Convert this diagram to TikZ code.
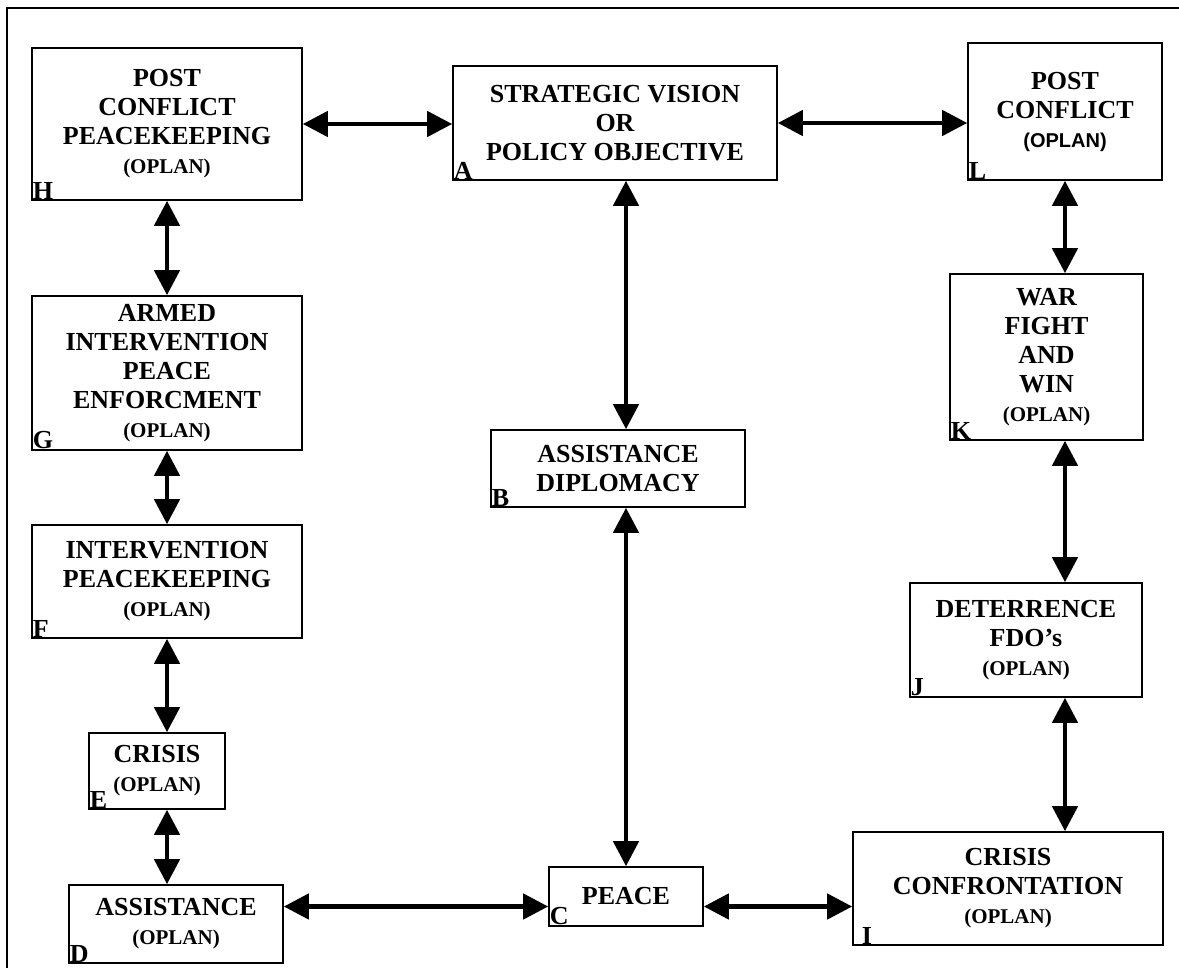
\documentclass[tikz,border=0pt]{standalone}
\usepackage{fontspec}
\setmainfont{Liberation Serif}
\newfontfamily\arialf{Liberation Sans}
\usetikzlibrary{arrows.meta,calc}
\newcommand{\opl}{{\fontsize{21}{24}\selectfont (OPLAN)}}
\newcommand{\oplsans}{{\arialf\fontsize{20}{24}\selectfont\bfseries (OPLAN)}}
\begin{document}
\begin{tikzpicture}[x=1pt,y=-1pt,
  box/.style={draw=black,line width=1.6pt,inner sep=0pt,align=center,
    font=\fontsize{26}{29}\selectfont\bfseries},
  lbl/.style={anchor=south west,inner sep=1.5pt,font=\fontsize{26}{26}\selectfont\bfseries},
  arr/.style={line width=4.5pt,{Triangle[length=25pt,width=25pt]}-{Triangle[length=25pt,width=25pt]}}]
\useasboundingbox (0,0) rectangle (1179,968);
% frame (only top and left sides visible)
\draw[line width=1.5pt] (7,968) -- (7,8) -- (1179,8);
% boxes
\node[box,minimum width=270pt,minimum height=152pt] (h) at (167,124) {POST\\CONFLICT\\PEACEKEEPING\\\opl};
\node[box,minimum width=324pt,minimum height=114pt] (a) at (615,123) {STRATEGIC VISION\\OR\\POLICY OBJECTIVE};
\node[box,minimum width=194pt,minimum height=137pt] (l) at (1065,111.5) {POST\\CONFLICT\\\oplsans};
\node[box,minimum width=270pt,minimum height=154pt] (g) at (167,373) {ARMED\\INTERVENTION\\PEACE\\ENFORCMENT\\\opl};
\node[box,minimum width=254pt,minimum height=77pt] (b) at (618,468.5) {ASSISTANCE\\DIPLOMACY};
\node[box,minimum width=193pt,minimum height=166pt] (k) at (1046.5,357) {WAR\\FIGHT\\AND\\WIN\\\opl};
\node[box,minimum width=270pt,minimum height=113pt] (f) at (167,581.5) {INTERVENTION\\PEACEKEEPING\\\opl};
\node[box,minimum width=232pt,minimum height=114pt] (j) at (1026,640) {DETERRENCE\\FDO's\\\opl};
\node[box,minimum width=136pt,minimum height=76pt] (e) at (157,771) {CRISIS\\\opl};
\node[box,minimum width=214pt,minimum height=78pt] (d) at (176,924) {ASSISTANCE\\\opl};
\node[box,minimum width=154pt,minimum height=59pt] (c) at (626,896.5) {PEACE};
\node[box,minimum width=310pt,minimum height=113pt] (i) at (1008,888.5) {CRISIS\\CONFRONTATION\\\opl};
% corner letters
\node[lbl] (lh) at (h.south west) {H};
\node[lbl] (la) at (a.south west) {A};
\node[lbl] (ll) at (l.south west) {L};
\node[lbl] (lg) at (g.south west) {G};
\node[lbl] (lb) at (b.south west) {B};
\node[lbl] (lk) at (k.south west) {K};
\node[lbl] (lf) at (f.south west) {F};
\node[lbl] (lj) at (j.south west) {J};
\node[lbl] (le) at (e.south west) {E};
\node[lbl] (ld) at (d.south west) {D};
\node[lbl] (lc) at (c.south west) {C};
\node[lbl] (li) at ([xshift=8pt]i.south west) {I};
% connectors
\draw[arr] (h.east) -- (h.east -| a.west);
\draw[arr] (a.east) -- (a.east -| l.west);
\draw[arr] (h.south) -- (h.south |- g.north);
\draw[arr] (g.south) -- (g.south |- f.north);
\draw[arr] (f.south) -- (f.south |- e.north);
\draw[arr] (e.south -| f.south) -- (f.south |- d.north);
\draw[arr] (b.north -| c.north) -- (c.north |- a.south);
\draw[arr] (b.south -| c.north) -- (c.north);
\draw[arr] ([yshift=-10pt]c.west -| d.east) -- ([yshift=-10pt]c.west);
\draw[arr] ([yshift=-10pt]c.east) -- ([yshift=-10pt]c.east -| i.west);
\draw[arr] (l.south) -- (l.south |- k.north);
\draw[arr] (k.south -| l.south) -- (l.south |- j.north);
\draw[arr] (j.south -| l.south) -- (l.south |- i.north);
\end{tikzpicture}
\end{document}
